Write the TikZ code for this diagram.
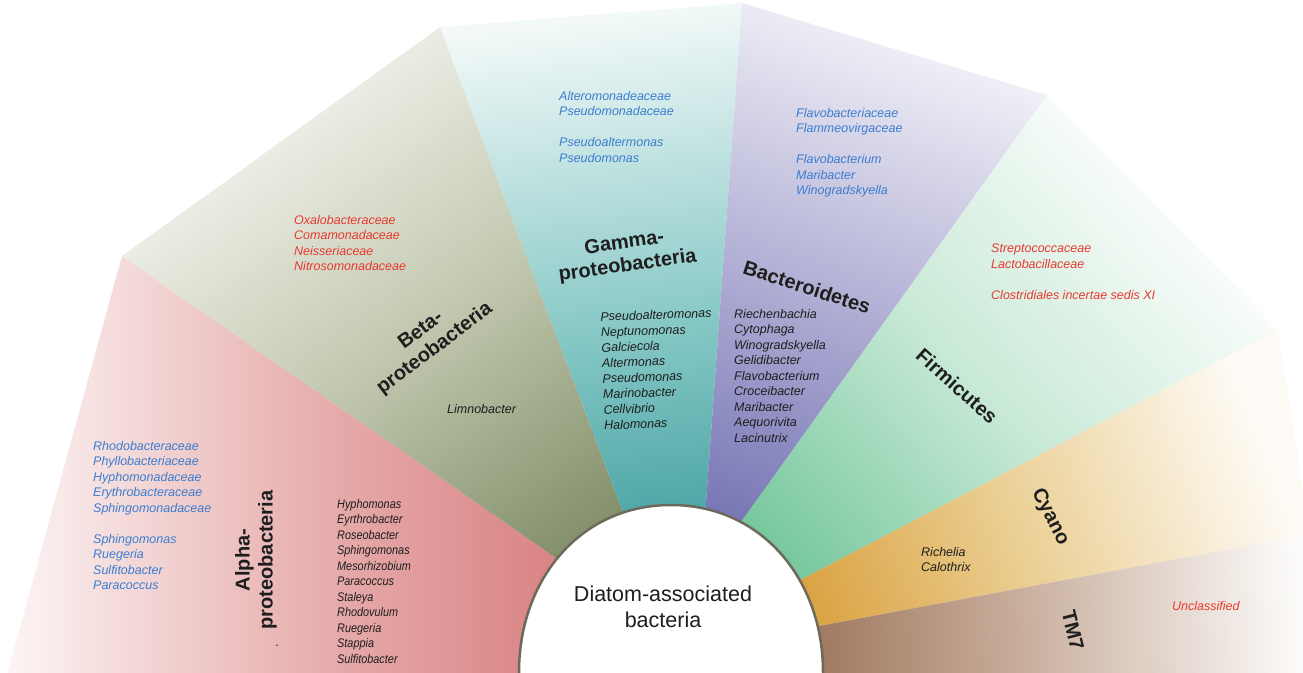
\documentclass[tikz,border=0pt]{standalone}
\usepackage{fontspec}
\setmainfont{Liberation Sans}
\definecolor{tblue}{HTML}{3B7DD0}
\definecolor{tred}{HTML}{E8392E}
\definecolor{tblack}{HTML}{1E1E1E}
\definecolor{rimgray}{HTML}{6D6A5C}
\definecolor{alphaD}{HTML}{D36F70}
\definecolor{alphaM}{HTML}{E6AAAA}
\definecolor{alphaL}{HTML}{FDF6F6}
\definecolor{betaD}{HTML}{7B8962}
\definecolor{betaM}{HTML}{C2C8AF}
\definecolor{betaL}{HTML}{F7F7F3}
\definecolor{gammaD}{HTML}{2A9192}
\definecolor{gammaM}{HTML}{86C8C6}
\definecolor{gammaL}{HTML}{F2F9F8}
\definecolor{bactD}{HTML}{6666AC}
\definecolor{bactM}{HTML}{ABA9D1}
\definecolor{bactL}{HTML}{F1F0F7}
\definecolor{firmD}{HTML}{6EC497}
\definecolor{firmM}{HTML}{C8E9D6}
\definecolor{firmL}{HTML}{FFFFFF}
\definecolor{cyanoD}{HTML}{D5952A}
\definecolor{cyanoM}{HTML}{EACD90}
\definecolor{cyanoL}{HTML}{FEFBF6}
\definecolor{tmD}{HTML}{86593A}
\definecolor{tmM}{HTML}{C3A693}
\definecolor{tmL}{HTML}{FCFBFA}
\begin{document}
\begin{tikzpicture}[x=1pt,y=-1pt,
  lst/.style={anchor=north west, inner sep=0pt, align=left, font=\fontsize{12.5}{15.5}\selectfont\itshape},
  blulst/.style={lst, text=tblue},
  redlst/.style={lst, text=tred},
  blklst/.style={lst, text=tblack},
  lab/.style={inner sep=0pt, align=center, text=tblack, font=\fontsize{20}{23}\selectfont\bfseries},
]
\useasboundingbox (0,0) rectangle (1303,672);
% boundary points
\coordinate (H) at (671,665);
\coordinate (o1) at (122,256);  \coordinate (i1) at (655,627);
\coordinate (o2) at (440,27);   \coordinate (i2) at (658,605);
\coordinate (o3) at (742,3);    \coordinate (i3) at (699,600);
\coordinate (o4) at (1047,95);  \coordinate (i4) at (724,546);
\coordinate (o5) at (1278,330); \coordinate (i5) at (745,609);
\coordinate (o6) at (1310,534); \coordinate (i6) at (760,637);
\begin{scope}
\clip (0,0) rectangle (1303,672);
\shade[top color=alphaL, bottom color=alphaD, middle color=alphaM, shading angle=90]
  (o1) -- (i1) -- (H) -- (671,700) -- (0,700) -- cycle;
\shade[top color=betaL, bottom color=betaD, middle color=betaM, shading angle=36]
  (o1) -- (o2) -- (i2) -- (H) -- (i1) -- cycle;
\shade[top color=gammaL, bottom color=gammaD, middle color=gammaM, shading angle=7]
  (o2) -- (o3) -- (i3) -- (H) -- (i2) -- cycle;
\shade[top color=bactL, bottom color=bactD, middle color=bactM, shading angle=-20]
  (o3) -- (o4) -- (i4) -- (H) -- (i3) -- cycle;
\shade[top color=firmL, bottom color=firmD, middle color=firmM, shading angle=-47]
  (o4) -- (o5) -- (i5) -- (H) -- (i4) -- cycle;
\shade[top color=cyanoL, bottom color=cyanoD, middle color=cyanoM, shading angle=-69]
  (o5) -- (o6) -- (i6) -- (H) -- (i5) -- cycle;
\shade[top color=tmL, bottom color=tmD, middle color=tmM, shading angle=-87]
  (o6) -- (1310,700) -- (671,700) -- (H) -- (i6) -- cycle;
\filldraw[fill=white, draw=rimgray, line width=2.5pt]
  (519,690) -- (519,672) .. controls (519,580) and (580,505) .. (671,505)
  .. controls (762,505) and (823,580) .. (823,672) -- (823,690);
\end{scope}
% centre
\node[inner sep=0pt, align=center, text=tblack, font=\fontsize{21.5}{26}\selectfont] (centre) at (663,607) {Diatom-associated\\bacteria};
% Alpha
\node[blulst] (alphafam) at (93,441) {Rhodobacteraceae\\Phyllobacteriaceae\\Hyphomonadaceae\\Erythrobacteraceae\\Sphingomonadaceae\\[15.5pt]Sphingomonas\\Ruegeria\\Sulfitobacter\\Paracoccus};
\node[lab, rotate=90] (alphalab) at (256,560) {Alpha-\\proteobacteria};
\node[inner sep=0pt, text=tblack, font=\fontsize{12.5}{15}\selectfont] (dot) at (277,646) {.};
\node[blklst, xscale=0.87] (alphagen) at (337,499) {Hyphomonas\\Eyrthrobacter\\Roseobacter\\Sphingomonas\\Mesorhizobium\\Paracoccus\\Staleya\\Rhodovulum\\Ruegeria\\Stappia\\Sulfitobacter};
% Beta
\node[redlst] (betafam) at (294,215) {Oxalobacteraceae\\Comamonadaceae\\Neisseriaceae\\Nitrosomonadaceae};
\node[lab, rotate=37] (betalab) at (428,340) {Beta-\\proteobacteria};
\node[blklst] (betagen) at (447,404) {Limnobacter};
% Gamma
\node[blulst] (gammafam) at (559,91) {Alteromonadeaceae\\Pseudomonadaceae\\[15.5pt]Pseudoaltermonas\\Pseudomonas};
\node[lab, rotate=8] (gammalab) at (626,255) {Gamma-\\proteobacteria};
\node[blklst, rotate=2] (gammagen) at (600,312) {Pseudoalteromonas\\Neptunomonas\\Galciecola\\Altermonas\\Pseudomonas\\Marinobacter\\Cellvibrio\\Halomonas};
% Bacteroidetes
\node[blulst] (bactfam) at (796,108) {Flavobacteriaceae\\Flammeovirgaceae\\[15.5pt]Flavobacterium\\Maribacter\\Winogradskyella};
\node[lab, rotate=-18] (bactlab) at (807,287) {Bacteroidetes};
\node[blklst] (bactgen) at (734,309) {Riechenbachia\\Cytophaga\\Winogradskyella\\Gelidibacter\\Flavobacterium\\Croceibacter\\Maribacter\\Aequorivita\\Lacinutrix};
% Firmicutes
\node[redlst] (firmfam) at (991,244) {Streptococcaceae\\Lactobacillaceae\\[15.5pt]Clostridiales incertae sedis XI};
\node[lab, rotate=-42] (firmlab) at (957,386) {Firmicutes};
% Cyano
\node[lab, rotate=-63] (cyanolab) at (1050,517) {Cyano};
\node[blklst] (cyanogen) at (921,547) {Richelia\\Calothrix};
% TM7
\node[lab, rotate=-76] (tmlab) at (1073,630) {TM7};
\node[redlst] (tmfam) at (1172,601) {Unclassified};
\end{tikzpicture}
\end{document}
